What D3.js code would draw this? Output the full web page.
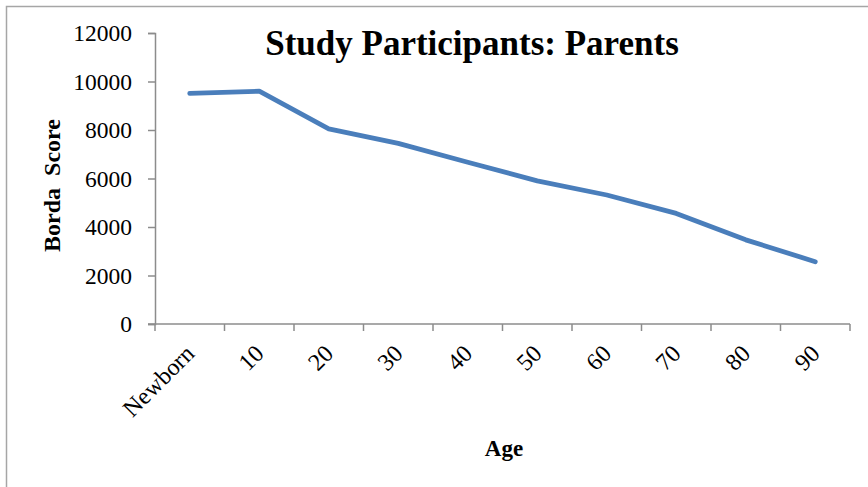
<!DOCTYPE html>
<html>
<head>
<meta charset="utf-8">
<script src="https://cdn.jsdelivr.net/npm/d3@7/dist/d3.min.js"></script>
<style>
  html, body { margin: 0; padding: 0; background: #fff; }
  svg { display: block; }
  text { font-family: "Liberation Serif", "Times New Roman", serif; fill: #000; }
</style>
</head>
<body>
<svg id="chart" width="868" height="487"></svg>
<script>
// Age groups along the x axis
const ages = ["Newborn", "10", "20", "30", "40", "50", "60", "70", "80", "90"];
// Borda score for each age group
const bordaScores = [9510, 9600, 8050, 7450, 6670, 5900, 5320, 4560, 3470, 2570];
// Y-axis tick values
const yTicks = [0, 2000, 4000, 6000, 8000, 10000, 12000];

const chartTitle = "Study Participants: Parents";
const xTitle = "Age";
const yTitle = "Borda  Score";

const svg = d3.select("#chart");
const W = 868, H = 487;
const plot = { left: 155, right: 850, top: 33, bottom: 324 };

// Outer frame: only left and top edges are visible
svg.append("path")
  .attr("d", `M6.5,${H} V6.5 H${W}`)
  .attr("fill", "none")
  .attr("stroke", "#a6a6a6")
  .attr("stroke-width", 1.5);

const x = d3.scaleBand().domain(ages).range([plot.left, plot.right]).padding(0);
const y = d3.scaleLinear().domain([0, 12000]).range([plot.bottom, plot.top]);

const axisColor = "#8c8c8c";

// Y axis
const yAxis = svg.append("g")
  .attr("transform", `translate(${plot.left},0)`)
  .call(d3.axisLeft(y).tickValues(yTicks).tickSize(7).tickPadding(16).tickFormat(d3.format("d")));
yAxis.select(".domain").attr("stroke", axisColor).attr("stroke-width", 1.5);
yAxis.selectAll(".tick line").attr("stroke", axisColor).attr("stroke-width", 1.5);
yAxis.selectAll(".tick text")
  .style("font-family", "Liberation Serif")
  .style("font-size", "23.5px")
  .attr("fill", "#000");

// X axis: ticks on category boundaries
const boundaries = ages.map(a => x(a)).concat([plot.right]);
const xg = svg.append("g");
xg.append("line")
  .attr("x1", plot.left - 7).attr("x2", plot.right)
  .attr("y1", plot.bottom).attr("y2", plot.bottom)
  .attr("stroke", axisColor).attr("stroke-width", 1.5);
xg.selectAll("line.tk").data(boundaries).enter().append("line")
  .attr("class", "tk")
  .attr("x1", d => d).attr("x2", d => d)
  .attr("y1", plot.bottom).attr("y2", plot.bottom + 7)
  .attr("stroke", axisColor).attr("stroke-width", 1.5);

// Rotated category labels
xg.selectAll("text.lbl").data(ages).enter().append("text")
  .attr("class", "lbl")
  .attr("text-anchor", "end")
  .attr("transform", d => `translate(${x(d) + x.bandwidth() / 2 + 6},${plot.bottom + 31}) rotate(-45)`)
  .style("font-size", "24px")
  .text(d => d);

// Data line
const line = d3.line()
  .x((d, i) => x(ages[i]) + x.bandwidth() / 2)
  .y(d => y(d));
svg.append("path")
  .datum(bordaScores)
  .attr("d", line)
  .attr("fill", "none")
  .attr("stroke", "#4a7ebb")
  .attr("stroke-width", 4.8)
  .attr("stroke-linejoin", "round")
  .attr("stroke-linecap", "round");

// Titles
svg.append("text")
  .attr("x", 472).attr("y", 55)
  .attr("text-anchor", "middle")
  .style("font-size", "35px").style("font-weight", "bold")
  .text(chartTitle);

svg.append("text")
  .attr("x", 504).attr("y", 456)
  .attr("text-anchor", "middle")
  .style("font-size", "23px").style("font-weight", "bold")
  .text(xTitle);

svg.append("text")
  .attr("transform", `translate(60,${(119 + 252) / 2}) rotate(-90)`)
  .attr("text-anchor", "middle")
  .style("font-size", "24px").style("font-weight", "bold")
  .style("white-space", "pre")
  .text(yTitle);
</script>
</body>
</html>
